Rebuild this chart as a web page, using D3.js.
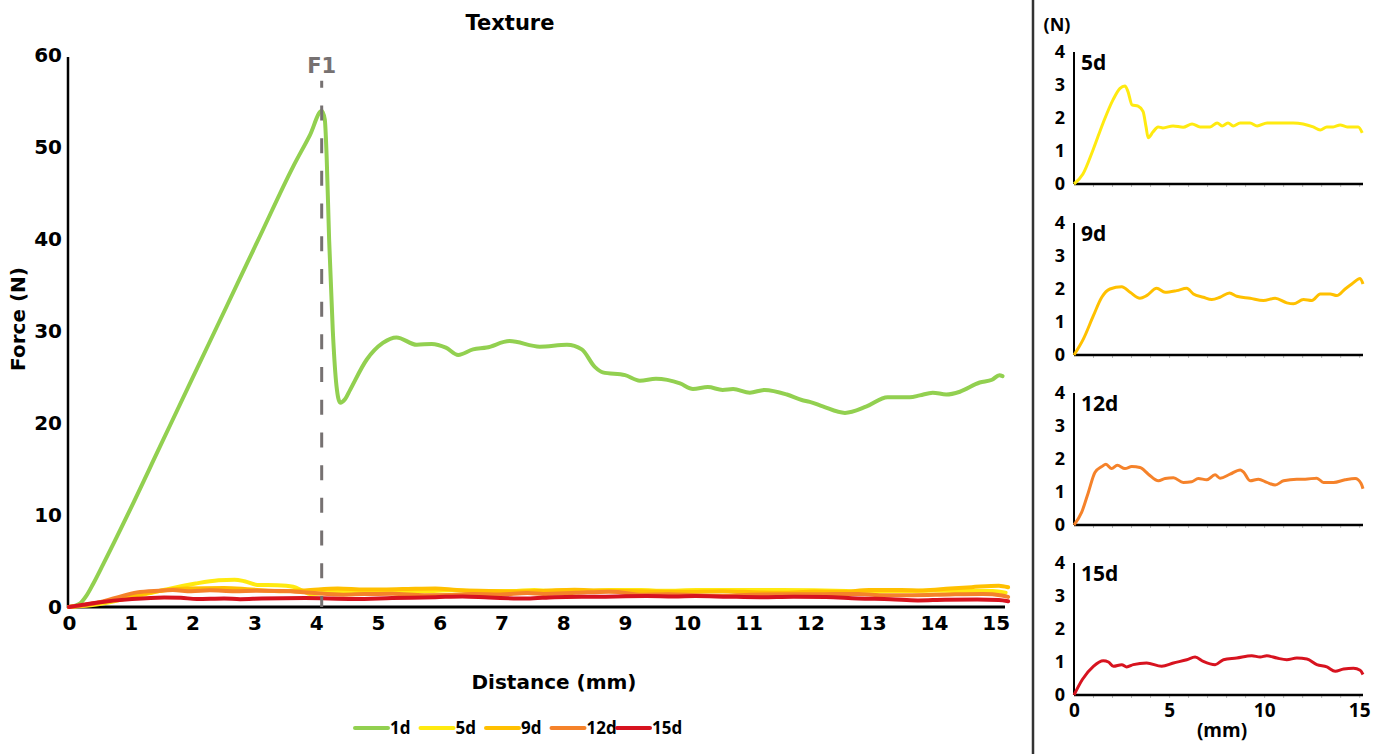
<!DOCTYPE html>
<html>
<head>
<meta charset="utf-8">
<script src="https://cdn.jsdelivr.net/npm/d3@7"></script>
<style>
  body { margin: 0; background: #fff; }
  svg { display: block; }
</style>
</head>
<body>
<script>
// texture curves, distance (mm) / force (N)
const seriesNames = ["1d", "5d", "9d", "12d", "15d"];
const seriesColors = ["#92d050", "#ffea10", "#ffc000", "#f5822a", "#d7131f"];

const dist1d = [0, 0.18, 0.28, 0.39, 0.55, 0.94, 1.47, 2.0, 2.56, 3.09, 3.63, 3.9, 4.09, 4.14, 4.17, 4.21, 4.27, 4.33, 4.39, 4.47, 4.55, 4.82, 5.08, 5.3, 5.63, 5.87, 6.1, 6.3, 6.54, 6.76, 7.13, 7.62, 8.06, 8.3, 8.51, 8.64, 9.0, 9.24, 9.5, 9.89, 10.1, 10.34, 10.58, 10.75, 11.02, 11.26, 11.62, 11.86, 11.99, 12.2, 12.56, 12.91, 13.25, 13.61, 13.77, 13.98, 14.2, 14.42, 14.74, 14.94, 15.06, 15.11];
const force1d = [0, 0.4, 1.2, 2.5, 4.6, 9.9, 17.4, 24.9, 32.8, 40.3, 47.9, 51.3, 53.9, 53.0, 49.0, 40.0, 30.0, 24.0, 22.2, 22.6, 23.6, 26.9, 28.7, 29.3, 28.5, 28.6, 28.2, 27.4, 28.0, 28.2, 28.9, 28.3, 28.5, 28.0, 26.1, 25.5, 25.2, 24.6, 24.8, 24.3, 23.7, 23.9, 23.6, 23.7, 23.3, 23.6, 23.1, 22.5, 22.3, 21.8, 21.1, 21.8, 22.8, 22.8, 23.0, 23.3, 23.1, 23.4, 24.4, 24.7, 25.2, 25.1];

const dist5d = [0, 0.47, 1.0, 1.53, 2.05, 2.42, 2.68, 2.84, 3.05, 3.37, 3.63, 3.79, 3.9, 4.16, 4.42, 4.68, 5.21, 5.74, 6.21, 6.63, 7.16, 7.53, 7.79, 8.1, 8.37, 8.74, 9.26, 9.63, 10.16, 11.0, 11.53, 12.05, 12.58, 12.95, 13.3, 13.63, 14.0, 14.37, 14.95, 15.16];
const force5d = [0, 0.3, 1.03, 1.85, 2.55, 2.9, 2.97, 2.8, 2.4, 2.36, 2.2, 1.73, 1.4, 1.58, 1.73, 1.7, 1.76, 1.72, 1.82, 1.73, 1.73, 1.85, 1.76, 1.85, 1.76, 1.85, 1.85, 1.76, 1.85, 1.85, 1.85, 1.82, 1.73, 1.64, 1.73, 1.73, 1.79, 1.73, 1.73, 1.55];

const dist9d = [0, 0.49, 1.02, 1.46, 1.89, 2.51, 2.95, 3.47, 3.82, 4.35, 4.79, 5.4, 5.93, 6.28, 6.8, 7.25, 7.68, 8.18, 8.56, 9.26, 9.96, 10.58, 11.19, 11.54, 12.07, 12.51, 12.95, 13.47, 13.82, 14.26, 14.61, 15.05, 15.2];
const force9d = [0, 0.48, 1.19, 1.75, 2.0, 2.07, 1.9, 1.72, 1.8, 2.02, 1.9, 1.95, 2.02, 1.85, 1.75, 1.68, 1.75, 1.88, 1.78, 1.72, 1.65, 1.72, 1.58, 1.55, 1.68, 1.65, 1.85, 1.85, 1.8, 2.0, 2.15, 2.32, 2.15];

const dist12d = [0, 0.4, 0.75, 1.1, 1.46, 1.68, 1.98, 2.28, 2.68, 3.04, 3.47, 3.91, 4.44, 4.79, 5.23, 5.75, 6.19, 6.54, 6.98, 7.42, 7.68, 8.21, 8.74, 8.91, 9.26, 9.7, 10.14, 10.58, 11.02, 11.72, 12.16, 12.77, 13.12, 13.65, 14.26, 14.79, 15.1, 15.2];
const force12d = [0, 0.38, 0.98, 1.59, 1.77, 1.84, 1.71, 1.81, 1.71, 1.77, 1.74, 1.54, 1.34, 1.41, 1.43, 1.29, 1.31, 1.41, 1.37, 1.52, 1.42, 1.54, 1.67, 1.61, 1.34, 1.39, 1.29, 1.21, 1.34, 1.39, 1.39, 1.42, 1.29, 1.29, 1.37, 1.41, 1.26, 1.1];

const dist15d = [0, 0.44, 1.02, 1.54, 1.81, 2.07, 2.51, 2.77, 3.12, 3.82, 4.61, 5.23, 5.93, 6.37, 6.8, 7.42, 7.86, 8.56, 9.35, 9.79, 10.14, 10.67, 11.19, 11.72, 12.25, 12.77, 13.3, 13.74, 14.18, 14.7, 15.05, 15.2];
const force15d = [0, 0.47, 0.87, 1.04, 1.0, 0.87, 0.92, 0.85, 0.92, 0.97, 0.87, 0.97, 1.07, 1.15, 1.02, 0.92, 1.07, 1.12, 1.19, 1.15, 1.19, 1.12, 1.07, 1.12, 1.09, 0.92, 0.85, 0.72, 0.79, 0.81, 0.75, 0.62];

const xTicks = [0, 1, 2, 3, 4, 5, 6, 7, 8, 9, 10, 11, 12, 13, 14, 15];
const yTicks = [0, 10, 20, 30, 40, 50, 60];
const panelYTicks = [0, 1, 2, 3, 4];
const panelXTicks = [0, 5, 10, 15];
const f1Distance = 4.09;

const distances = [dist1d, dist5d, dist9d, dist12d, dist15d];
const forces = [force1d, force5d, force9d, force12d, force15d];
const curves = seriesNames.map((name, i) => ({
  name, color: seriesColors[i],
  points: distances[i].map((d, j) => [d, forces[i][j]])
}));

const mainFont = "'DejaVu Sans', sans-serif";
const sideFont = "'Open Sans', sans-serif";

const svg = d3.select("body").append("svg")
  .attr("width", 1375)
  .attr("height", 754);

// ---- main chart ----
const x = d3.scaleLinear().domain([0, 15.15]).range([69, 1005]);
const y = d3.scaleLinear().domain([0, 60]).range([607, 55]);

const line = d3.line()
  .x(d => x(d[0]))
  .y(d => y(d[1]))
  .curve(d3.curveMonotoneX);

const yAxis = svg.append("g")
  .attr("transform", `translate(${x(0) - 1},0)`)
  .call(d3.axisLeft(y).tickValues(yTicks).tickSize(0).tickPadding(6));
yAxis.select(".domain").remove();
yAxis.selectAll("text")
  .attr("font-family", mainFont).attr("font-weight", "bold")
  .attr("font-size", 20).attr("fill", "#000");

const xAxis = svg.append("g")
  .attr("transform", `translate(0,${y(0)})`)
  .call(d3.axisBottom(x).tickValues(xTicks).tickSize(0).tickPadding(9));
xAxis.select(".domain").remove();
xAxis.selectAll("text")
  .attr("font-family", mainFont).attr("font-weight", "bold")
  .attr("font-size", 20).attr("fill", "#000");

svg.append("line")
  .attr("x1", x(0) - 1).attr("x2", x(0) - 1)
  .attr("y1", y(60) + 2).attr("y2", y(0) + 1)
  .attr("stroke", "#000").attr("stroke-width", 2.5);
svg.append("line")
  .attr("x1", x(0) - 2).attr("x2", x(15.15))
  .attr("y1", y(0)).attr("y2", y(0))
  .attr("stroke", "#000").attr("stroke-width", 3);

curves.forEach(c => {
  svg.append("path")
    .datum(c.points)
    .attr("fill", "none")
    .attr("stroke", c.color)
    .attr("stroke-width", 4)
    .attr("stroke-linejoin", "round")
    .attr("stroke-linecap", "round")
    .attr("d", line);
});

// F1 marker
svg.append("line")
  .attr("x1", x(f1Distance)).attr("x2", x(f1Distance))
  .attr("y1", y(57.2)).attr("y2", y(0))
  .attr("stroke", "#767171").attr("stroke-width", 3)
  .attr("stroke-dasharray", "15,17.7")
  .attr("stroke-dashoffset", 8);
svg.append("text")
  .attr("x", x(f1Distance)).attr("y", 73)
  .attr("text-anchor", "middle")
  .attr("font-family", mainFont).attr("font-weight", "bold")
  .attr("font-size", 21).attr("fill", "#767171")
  .text("F1");

svg.append("text")
  .attr("x", 510).attr("y", 30)
  .attr("text-anchor", "middle")
  .attr("font-family", mainFont).attr("font-weight", "bold")
  .attr("font-size", 21)
  .text("Texture");

svg.append("text")
  .attr("transform", "translate(25,319) rotate(-90)")
  .attr("text-anchor", "middle")
  .attr("font-family", mainFont).attr("font-weight", "bold")
  .attr("font-size", 20)
  .text("Force (N)");

svg.append("text")
  .attr("x", 554).attr("y", 689)
  .attr("text-anchor", "middle")
  .attr("font-family", mainFont).attr("font-weight", "bold")
  .attr("font-size", 20)
  .text("Distance (mm)");

// legend
const legend = svg.append("g").attr("transform", "translate(355,728)");
curves.forEach((c, i) => {
  const g = legend.append("g").attr("transform", `translate(${i * 65.5},0)`);
  g.append("line")
    .attr("x1", 0).attr("x2", 33)
    .attr("stroke", c.color).attr("stroke-width", 4)
    .attr("stroke-linecap", "round");
  g.append("text")
    .attr("x", 35).attr("dy", "0.36em")
    .attr("font-family", sideFont).attr("font-weight", "bold")
    .attr("font-size", 17).attr("fill", "#000")
    .text(c.name);
});

// divider
svg.append("line")
  .attr("x1", 1033).attr("x2", 1033)
  .attr("y1", 0).attr("y2", 754)
  .attr("stroke", "#333").attr("stroke-width", 2.5);

// ---- side panels ----
const xs = d3.scaleLinear().domain([0, 15.2]).range([1074, 1363]);
const panelTops = [52, 223, 393, 563];
const panelHeight = 132;

curves.slice(1).forEach((c, i) => {
  const top = panelTops[i];
  const ys = d3.scaleLinear().domain([0, 4]).range([top + panelHeight, top]);
  const g = svg.append("g");

  const ay = g.append("g")
    .attr("transform", `translate(${xs(0)},0)`)
    .call(d3.axisLeft(ys).tickValues(panelYTicks).tickFormat(d3.format("d")).tickSize(0).tickPadding(9));
  ay.select(".domain").remove();
  ay.selectAll("text")
    .attr("font-family", sideFont).attr("font-weight", "bold")
    .attr("font-size", 18).attr("fill", "#000");

  const minor = g.append("g")
    .attr("transform", `translate(0,${ys(0)})`)
    .call(d3.axisBottom(xs).tickValues(d3.range(1, 16)).tickSize(3).tickFormat(""));
  minor.select(".domain").remove();
  minor.selectAll("line").attr("stroke", "#bbb").attr("stroke-width", 1);

  g.append("line")
    .attr("x1", xs(0)).attr("x2", xs(0))
    .attr("y1", ys(4)).attr("y2", ys(0))
    .attr("stroke", "#000").attr("stroke-width", 2);
  g.append("line")
    .attr("x1", xs(0)).attr("x2", xs(15.2))
    .attr("y1", ys(0)).attr("y2", ys(0))
    .attr("stroke", "#000").attr("stroke-width", 2.5);

  const sLine = d3.line()
    .x(d => xs(d[0]))
    .y(d => ys(d[1]))
    .curve(d3.curveMonotoneX);
  g.append("path")
    .datum(c.points)
    .attr("fill", "none")
    .attr("stroke", c.color)
    .attr("stroke-width", 3)
    .attr("stroke-linejoin", "round")
    .attr("d", sLine);

  g.append("text")
    .attr("x", xs(0) + 7).attr("y", top + 18)
    .attr("font-family", sideFont).attr("font-weight", "bold")
    .attr("font-size", 21).attr("fill", "#000")
    .text(c.name);

  if (i === 3) {
    const ax = g.append("g")
      .attr("transform", `translate(0,${ys(0)})`)
      .call(d3.axisBottom(xs).tickValues(panelXTicks).tickSize(0).tickPadding(9));
    ax.select(".domain").remove();
    ax.selectAll("text")
      .attr("font-family", sideFont).attr("font-weight", "bold")
      .attr("font-size", 19).attr("fill", "#000");
  }
});

svg.append("text")
  .attr("x", 1057).attr("y", 31)
  .attr("text-anchor", "middle")
  .attr("font-family", sideFont).attr("font-weight", "bold")
  .attr("font-size", 18)
  .text("(N)");

svg.append("text")
  .attr("x", 1222).attr("y", 737)
  .attr("text-anchor", "middle")
  .attr("font-family", sideFont).attr("font-weight", "bold")
  .attr("font-size", 19)
  .text("(mm)");
</script>
</body>
</html>
